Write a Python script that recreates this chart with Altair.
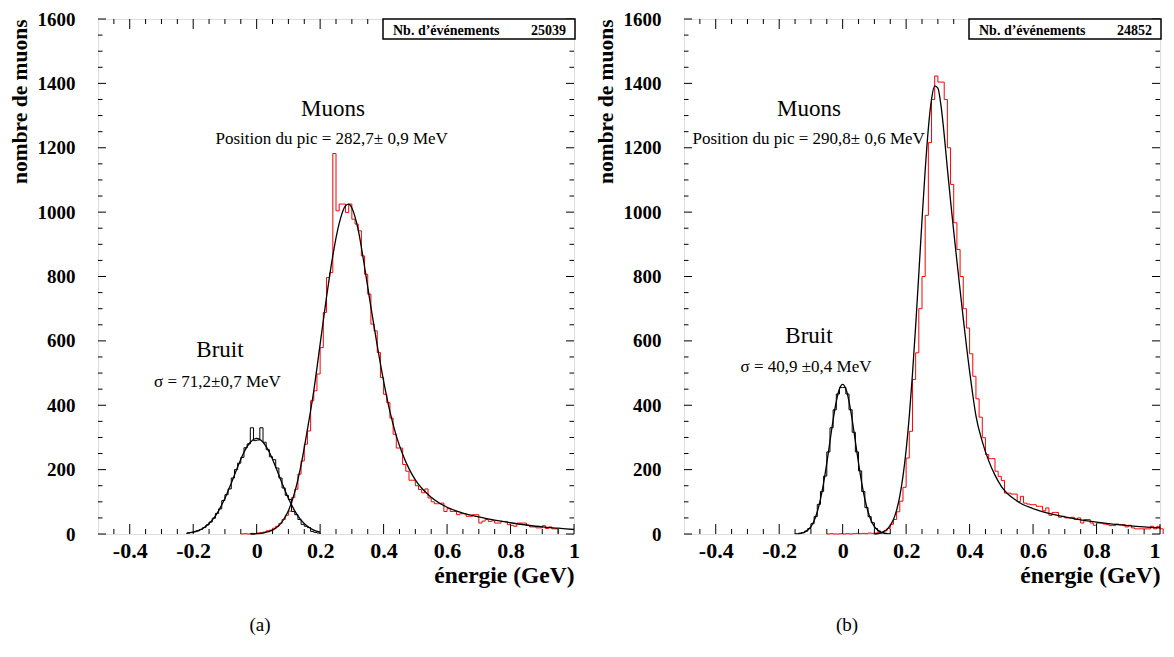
import altair as alt
import pandas as pd

BIN_WIDTH = 0.01
X_MAJOR = [-0.4, -0.2, 0.0, 0.2, 0.4, 0.6, 0.8, 1.0]
Y_MAJOR = [0, 200, 400, 600, 800, 1000, 1200, 1400, 1600]

# ---------------- panel (a) ----------------
A_NOISE_START = -0.22
A_NOISE_COUNTS = [3, 5, 7, 10, 14, 20, 28, 37, 49, 64, 78, 104, 122, 140, 174, 200,
                  220, 238, 268, 280, 330, 290, 292, 330, 285, 262, 240, 231, 205, 174,
                  143, 120, 107, 70, 60, 45, 30, 24, 20, 8, 5, 3]
A_MUON_START = -0.05
A_MUON_COUNTS = [0, 1, 0, 2, 1, 3, 4, 6, 10, 12, 18, 24, 33, 45, 58, 71, 113, 139, 186, 227,
                 279, 320, 414, 445, 497, 579, 688, 797, 812, 1182, 1004, 1025, 1025, 999, 1025,
                 978, 963, 942, 864, 807, 745, 652, 631, 564, 486, 434, 408, 360, 310, 267,
                 267, 216, 195, 167, 167, 150, 138, 128, 140, 112, 100, 94, 94, 96, 70,
                 79, 70, 70, 60, 63, 63, 55, 55, 60, 60, 34, 40, 45, 39, 41,
                 34, 34, 39, 39, 29, 27, 24, 34, 34, 34, 27, 22, 22, 19, 19,
                 26, 17, 22, 16, 16]
A_FIT_NOISE_X = [-0.22, -0.20, -0.18, -0.16, -0.14, -0.12, -0.10, -0.08, -0.06, -0.04, -0.02,
                 0.0, 0.02, 0.04, 0.06, 0.08, 0.10, 0.12, 0.14, 0.16, 0.18, 0.20]
A_FIT_NOISE_Y = [2.5, 6, 12, 24, 43, 72, 111, 158, 208, 254, 285,
                 297, 285, 254, 208, 158, 111, 72, 43, 24, 12, 6]
A_FIT_MUON_X = [-0.02, 0.0, 0.02, 0.04, 0.06, 0.08, 0.10, 0.12, 0.14, 0.16, 0.18, 0.20, 0.22,
                0.24, 0.26, 0.28, 0.29, 0.30, 0.32, 0.34, 0.36, 0.38, 0.40, 0.42, 0.44, 0.46,
                0.48, 0.50, 0.55, 0.60, 0.65, 0.70, 0.75, 0.80, 0.85, 0.90, 0.95, 1.0]
A_FIT_MUON_Y = [0, 1, 3, 8, 18, 38, 72, 130, 215, 325, 445, 590, 735,
                865, 965, 1020, 1025, 1013, 945, 830, 705, 585, 475, 380, 305, 248,
                203, 168, 114, 83, 65, 53, 43, 35, 28, 22, 18, 14]
A_EVENTS = "25039"
A_PEAK = "Position du pic = 282,7± 0,9 MeV"
A_SIGMA = "σ = 71,2±0,7 MeV"

# ---------------- panel (b) ----------------
B_NOISE_START = -0.15
B_NOISE_COUNTS = [1, 2, 4, 9, 17, 32, 54, 92, 132, 180, 255, 330, 386, 435, 455,
                  455, 435, 386, 316, 255, 196, 132, 82, 54, 35, 17, 9, 4, 2, 1]
B_MUON_START = -0.05
B_MUON_COUNTS = [0, 1, 0, 0, 1, 0, 1, 0, 1, 2, 1, 2, 1, 3, 2,
                 3, 5, 4, 10, 17, 30, 45, 69, 102, 145, 236, 319, 480, 563, 700,
                 800, 990, 1216, 1350, 1423, 1404, 1404, 1350, 1200, 1086, 967, 884, 800, 700, 640,
                 560, 490, 420, 363, 299, 247, 234, 234, 195, 179, 166, 127, 127, 124, 124,
                 101, 117, 96, 93, 91, 91, 86, 86, 72, 81, 58, 67, 67, 52, 55,
                 50, 50, 52, 45, 50, 34, 45, 45, 34, 27, 34, 34, 31, 29, 26,
                 26, 31, 29, 29, 22, 27, 19, 16, 16, 16, 16, 16, 24, 16, 24, 16]
B_FIT_NOISE_X = [-0.14, -0.13, -0.12, -0.11, -0.10, -0.09, -0.08, -0.07, -0.06, -0.05, -0.04,
                 -0.03, -0.02, -0.01, 0.0, 0.01, 0.02, 0.03, 0.04, 0.05, 0.06, 0.07, 0.08,
                 0.09, 0.10, 0.11, 0.12, 0.13, 0.14]
B_FIT_NOISE_Y = [1, 3, 6, 12.5, 23, 41, 69, 108, 159, 220, 288,
                 355, 412, 451, 465, 451, 412, 355, 288, 220, 159, 108, 69,
                 41, 23, 12.5, 6, 3, 1]
B_FIT_MUON_X = [0.10, 0.12, 0.13, 0.14, 0.15, 0.16, 0.17, 0.18, 0.19, 0.20, 0.21, 0.22, 0.23,
                0.24, 0.25, 0.26, 0.27, 0.28, 0.29, 0.30, 0.31, 0.32, 0.33, 0.34, 0.35, 0.36,
                0.37, 0.38, 0.39, 0.40, 0.41, 0.42, 0.44, 0.46, 0.48, 0.50, 0.55, 0.60, 0.65,
                0.70, 0.75, 0.80, 0.85, 0.90, 0.95, 1.00]
B_FIT_MUON_Y = [0, 3, 8, 15, 27, 45, 74, 118, 179, 261, 367, 497, 646,
                809, 975, 1130, 1260, 1350, 1392, 1385, 1330, 1240, 1135, 1035, 940, 848,
                758, 670, 585, 505, 432, 367, 287, 228, 183, 148, 102, 79, 64,
                53, 44, 37, 31, 26, 22, 19]
B_EVENTS = "24852"
B_PEAK = "Position du pic = 290,8± 0,6 MeV"
B_SIGMA = "σ = 40,9 ±0,4 MeV"

# ---------------- styling ----------------
W, H = 476, 515
FONT = "Liberation Serif, Tinos, 'Times New Roman', Times, 'DejaVu Serif', serif"
XSC = alt.Scale(domain=[-0.5, 1.0], nice=False, zero=False)
YSC = alt.Scale(domain=[0, 1600], nice=False, zero=False)


def make_x_axis(flush):
    return alt.Axis(
        values=X_MAJOR, title="énergie (GeV)", titleAnchor="end",
        labelExpr="(datum.value < 0 ? '-' : '') + format(abs(datum.value), '.1~f')",
        ticks=False, domain=False, grid=False, labelFlush=flush, labelOverlap=False,
        labelPadding=6, titlePadding=2,
        labelFont=FONT, labelFontSize=22, labelFontWeight="bold", labelColor="black",
        titleFont=FONT, titleFontSize=23.5, titleFontWeight="bold", titleColor="black",
    )


Y_AXIS = alt.Axis(
    values=Y_MAJOR, format="d", title="nombre de muons", titleAnchor="end",
    ticks=False, domain=False, grid=False, labelOverlap=False,
    labelPadding=23, titlePadding=6,
    labelFont=FONT, labelFontSize=19, labelFontWeight="bold", labelColor="black",
    titleFont=FONT, titleFontSize=21.5, titleFontWeight="bold", titleColor="black",
)


def hist_df(start, counts):
    edges = [round(start + i * BIN_WIDTH, 4) for i in range(len(counts) + 1)]
    xs = [edges[0]] + edges[:-1] + [edges[-1]]
    ys = [0] + list(counts) + [0]
    return pd.DataFrame({"x": xs, "y": ys, "o": list(range(len(xs)))})


x_minor = [v for v in [round(-0.45 + 0.05 * i, 2) for i in range(29)]
           if all(abs(v - m) > 1e-6 for m in X_MAJOR)]
y_minor = [v for v in range(50, 1600, 50) if v % 200 != 0]


def text_layer(txt, x, y, size, weight="normal", align="center", baseline="middle"):
    return alt.Chart(pd.DataFrame({"t": [txt]})).mark_text(
        font=FONT, fontSize=size, fontWeight=weight, align=align, baseline=baseline,
        color="black").encode(x=alt.value(x), y=alt.value(y), text="t:N")


def panel(noise_start, noise_counts, muon_start, muon_counts,
          fnx, fny, fmx, fmy, events, peak, sigma, pos, caption, cap_x, flush):
    xax = make_x_axis(flush)

    def xenc(field="x"):
        return alt.X(f"{field}:Q", scale=XSC, axis=xax)

    def yenc(field="y"):
        return alt.Y(f"{field}:Q", scale=YSC, axis=Y_AXIS)

    red_hist = alt.Chart(hist_df(muon_start, muon_counts)).mark_line(
        interpolate="step-after", color="#ff0000", strokeWidth=1).encode(
        x=xenc(), y=yenc(), order="o:Q")
    black_hist = alt.Chart(hist_df(noise_start, noise_counts)).mark_line(
        interpolate="step-after", color="black", strokeWidth=1).encode(
        x=xenc(), y=yenc(), order="o:Q")
    fit_n = alt.Chart(pd.DataFrame({"x": fnx, "y": fny})).mark_line(
        interpolate="monotone", color="black", strokeWidth=1.3).encode(x=xenc(), y=yenc())
    fit_m = alt.Chart(pd.DataFrame({"x": fmx, "y": fmy})).mark_line(
        interpolate="monotone", color="black", strokeWidth=1.3).encode(x=xenc(), y=yenc())

    tick_layers = []
    for vals, ln in [(X_MAJOR, 10), (x_minor, 5)]:
        df = pd.DataFrame({"v": vals})
        tick_layers.append(alt.Chart(df).mark_rule(color="black", strokeWidth=1).encode(
            x=xenc("v"), y=alt.value(H), y2=alt.value(H - ln)))
        tick_layers.append(alt.Chart(df).mark_rule(color="black", strokeWidth=1).encode(
            x=xenc("v"), y=alt.value(0), y2=alt.value(ln)))
    for vals, ln in [(Y_MAJOR, 8), (y_minor, 4.5)]:
        df = pd.DataFrame({"v": vals})
        tick_layers.append(alt.Chart(df).mark_rule(color="black", strokeWidth=1).encode(
            y=yenc("v"), x=alt.value(0), x2=alt.value(ln)))
        tick_layers.append(alt.Chart(df).mark_rule(color="black", strokeWidth=1).encode(
            y=yenc("v"), x=alt.value(W), x2=alt.value(W - ln)))

    box = alt.Chart(pd.DataFrame({"k": [0]})).mark_rect(
        fill="white", stroke="black", strokeWidth=1.5).encode(
        x=alt.value(W - 191), x2=alt.value(W + 1),
        y=alt.value(0), y2=alt.value(20))
    box_l = alt.Chart(pd.DataFrame({"t": ["Nb. d’événements"]})).mark_text(
        font=FONT, fontSize=14, fontWeight="bold", align="left", baseline="alphabetic",
        color="black").encode(x=alt.value(W - 181), y=alt.value(15.5), text="t:N")
    box_r = alt.Chart(pd.DataFrame({"t": [events]})).mark_text(
        font=FONT, fontSize=14, fontWeight="bold", align="right", baseline="alphabetic",
        color="black").encode(x=alt.value(W - 8), y=alt.value(15.5), text="t:N")
    texts = [
        text_layer("Muons", pos["mx"], pos["my"], 23),
        text_layer(peak, pos["px"], pos["py"], 17),
        text_layer("Bruit", pos["bx"], pos["by"], 23),
        text_layer(sigma, pos["sx"], pos["sy"], 17),
        text_layer(caption, cap_x, H + 91, 19),
    ]
    layers = [red_hist, black_hist, fit_n, fit_m] + tick_layers + [box, box_l, box_r] + texts
    return alt.layer(*layers).properties(width=W, height=H)


pa = panel(A_NOISE_START, A_NOISE_COUNTS, A_MUON_START, A_MUON_COUNTS,
           A_FIT_NOISE_X, A_FIT_NOISE_Y, A_FIT_MUON_X, A_FIT_MUON_Y,
           A_EVENTS, A_PEAK, A_SIGMA,
           dict(mx=235, my=89.7, px=233.7, py=120, bx=122, by=330.7, sx=119.5, sy=362.7),
           "(a)", 162, False)
pb = panel(B_NOISE_START, B_NOISE_COUNTS, B_MUON_START, B_MUON_COUNTS,
           B_FIT_NOISE_X, B_FIT_NOISE_Y, B_FIT_MUON_X, B_FIT_MUON_Y,
           B_EVENTS, B_PEAK, B_SIGMA,
           dict(mx=125, my=89.7, px=124.7, py=120, bx=125, by=317.4, sx=122, sy=347.7),
           "(b)", 163, True)

chart = alt.hconcat(pa, pb, spacing=14).properties(
    padding={"left": 0, "top": 1, "right": 0, "bottom": 5}
).configure_view(stroke="black", strokeWidth=1.6).configure(background="white")

chart.save("out.html", embed_options={"renderer": "svg", "actions": False})
